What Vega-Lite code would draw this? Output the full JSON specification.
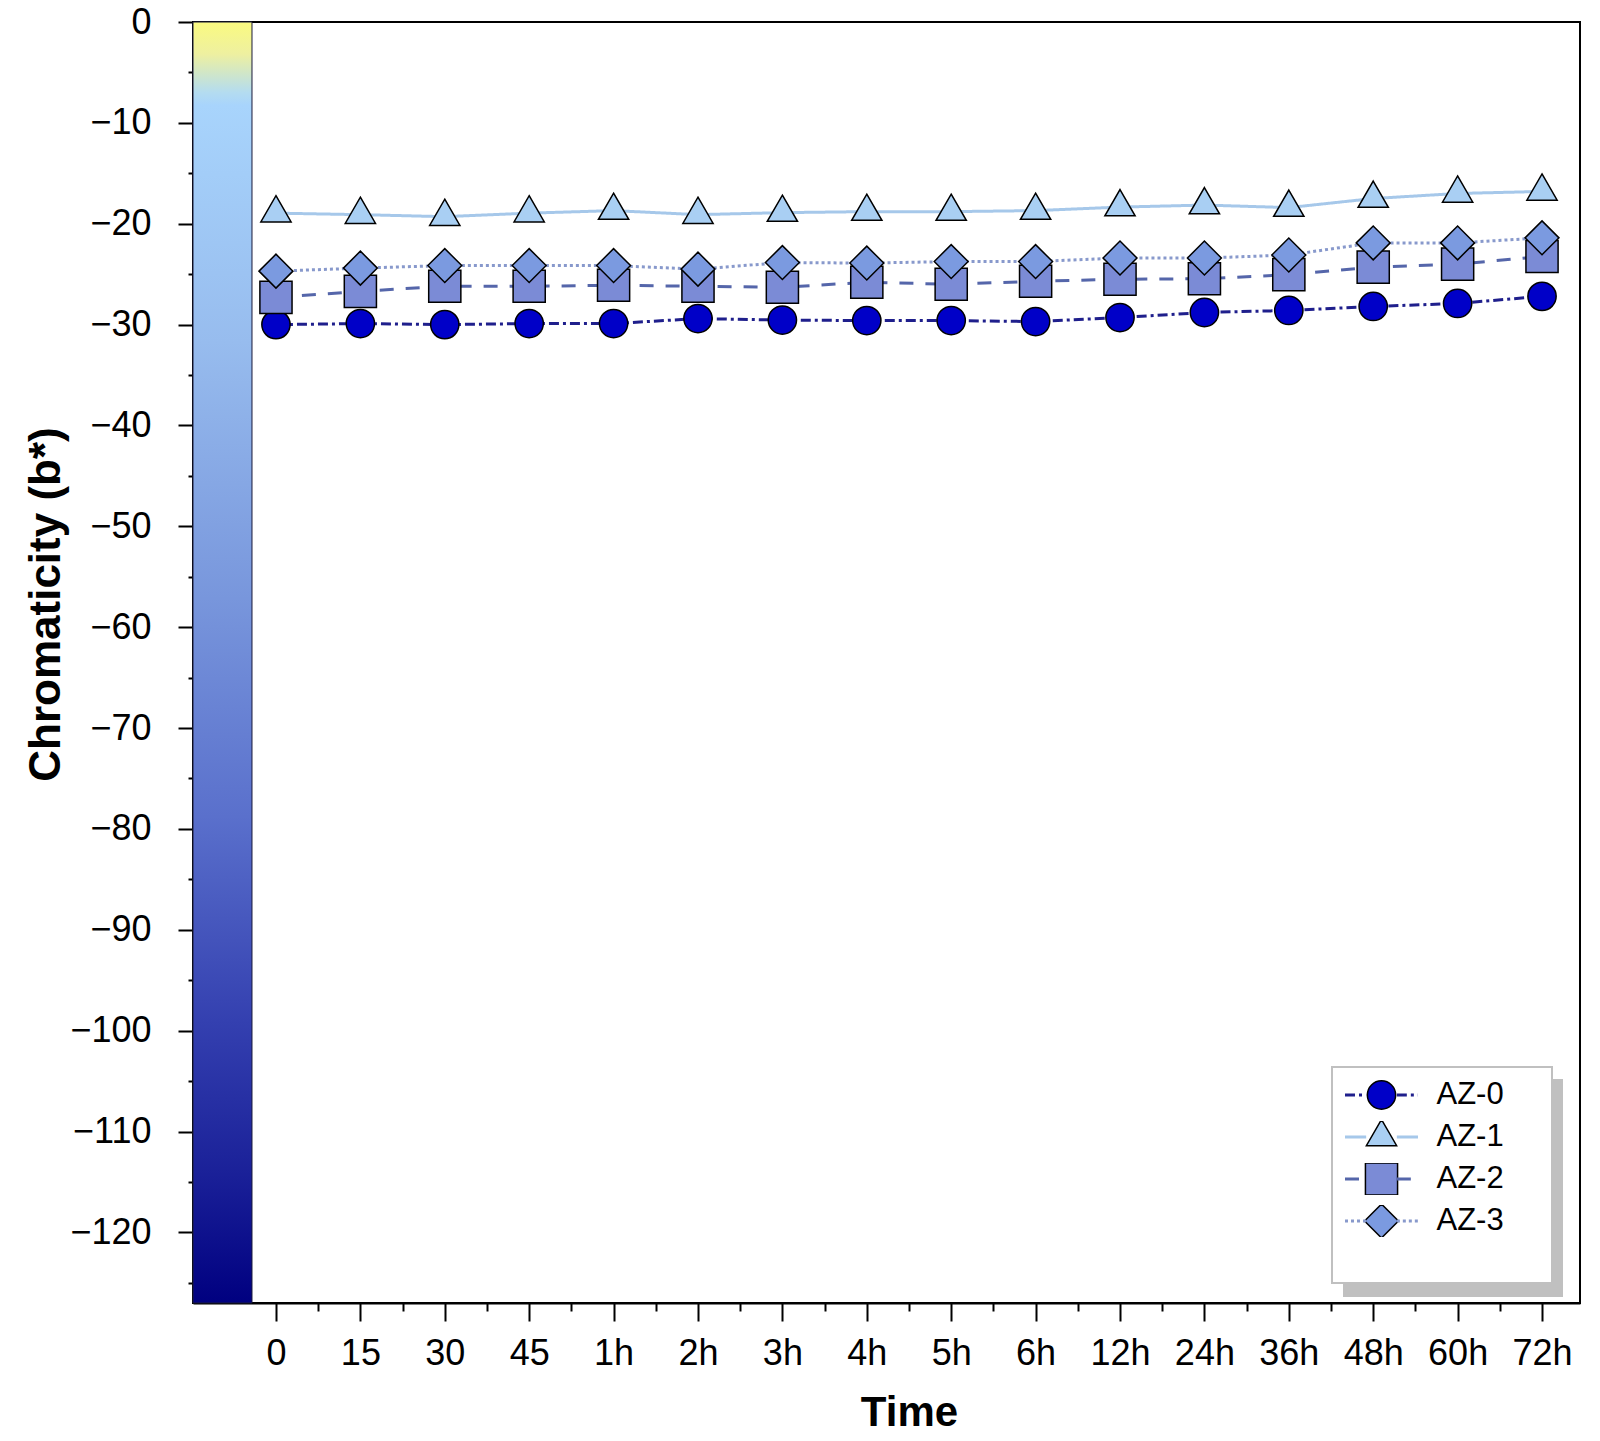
{
  "$schema": "https://vega.github.io/schema/vega-lite/v6.json",
  "width": 1387,
  "height": 1281,
  "autosize": {"type": "none"},
  "padding": {"left": 193, "top": 22, "right": 20, "bottom": 138},
  "background": "white",
  "config": {
    "view": {"stroke": "black", "strokeWidth": 2},
    "font": "Liberation Sans",
    "legend": {"strokeWidth": 2}
  },
  "data": {
    "values": [
      {"i": 0, "time": "0", "series": "AZ-0", "b": -30.0},
      {"i": 1, "time": "15", "series": "AZ-0", "b": -29.9},
      {"i": 2, "time": "30", "series": "AZ-0", "b": -30.0},
      {"i": 3, "time": "45", "series": "AZ-0", "b": -29.9},
      {"i": 4, "time": "1h", "series": "AZ-0", "b": -29.9},
      {"i": 5, "time": "2h", "series": "AZ-0", "b": -29.4},
      {"i": 6, "time": "3h", "series": "AZ-0", "b": -29.55},
      {"i": 7, "time": "4h", "series": "AZ-0", "b": -29.6},
      {"i": 8, "time": "5h", "series": "AZ-0", "b": -29.6},
      {"i": 9, "time": "6h", "series": "AZ-0", "b": -29.7},
      {"i": 10, "time": "12h", "series": "AZ-0", "b": -29.3},
      {"i": 11, "time": "24h", "series": "AZ-0", "b": -28.8},
      {"i": 12, "time": "36h", "series": "AZ-0", "b": -28.6},
      {"i": 13, "time": "48h", "series": "AZ-0", "b": -28.2},
      {"i": 14, "time": "60h", "series": "AZ-0", "b": -27.9},
      {"i": 15, "time": "72h", "series": "AZ-0", "b": -27.2},
      {"i": 0, "time": "0", "series": "AZ-1", "b": -18.95},
      {"i": 1, "time": "15", "series": "AZ-1", "b": -19.1},
      {"i": 2, "time": "30", "series": "AZ-1", "b": -19.3},
      {"i": 3, "time": "45", "series": "AZ-1", "b": -18.95},
      {"i": 4, "time": "1h", "series": "AZ-1", "b": -18.7},
      {"i": 5, "time": "2h", "series": "AZ-1", "b": -19.1},
      {"i": 6, "time": "3h", "series": "AZ-1", "b": -18.9},
      {"i": 7, "time": "4h", "series": "AZ-1", "b": -18.8},
      {"i": 8, "time": "5h", "series": "AZ-1", "b": -18.8},
      {"i": 9, "time": "6h", "series": "AZ-1", "b": -18.7},
      {"i": 10, "time": "12h", "series": "AZ-1", "b": -18.35},
      {"i": 11, "time": "24h", "series": "AZ-1", "b": -18.15},
      {"i": 12, "time": "36h", "series": "AZ-1", "b": -18.4},
      {"i": 13, "time": "48h", "series": "AZ-1", "b": -17.5},
      {"i": 14, "time": "60h", "series": "AZ-1", "b": -17.0},
      {"i": 15, "time": "72h", "series": "AZ-1", "b": -16.8},
      {"i": 0, "time": "0", "series": "AZ-2", "b": -27.3},
      {"i": 1, "time": "15", "series": "AZ-2", "b": -26.7},
      {"i": 2, "time": "30", "series": "AZ-2", "b": -26.2},
      {"i": 3, "time": "45", "series": "AZ-2", "b": -26.2},
      {"i": 4, "time": "1h", "series": "AZ-2", "b": -26.1},
      {"i": 5, "time": "2h", "series": "AZ-2", "b": -26.2},
      {"i": 6, "time": "3h", "series": "AZ-2", "b": -26.3},
      {"i": 7, "time": "4h", "series": "AZ-2", "b": -25.8},
      {"i": 8, "time": "5h", "series": "AZ-2", "b": -26.0},
      {"i": 9, "time": "6h", "series": "AZ-2", "b": -25.7},
      {"i": 10, "time": "12h", "series": "AZ-2", "b": -25.5},
      {"i": 11, "time": "24h", "series": "AZ-2", "b": -25.45},
      {"i": 12, "time": "36h", "series": "AZ-2", "b": -25.05},
      {"i": 13, "time": "48h", "series": "AZ-2", "b": -24.3},
      {"i": 14, "time": "60h", "series": "AZ-2", "b": -24.0},
      {"i": 15, "time": "72h", "series": "AZ-2", "b": -23.25},
      {"i": 0, "time": "0", "series": "AZ-3", "b": -24.7},
      {"i": 1, "time": "15", "series": "AZ-3", "b": -24.4},
      {"i": 2, "time": "30", "series": "AZ-3", "b": -24.15},
      {"i": 3, "time": "45", "series": "AZ-3", "b": -24.15},
      {"i": 4, "time": "1h", "series": "AZ-3", "b": -24.15},
      {"i": 5, "time": "2h", "series": "AZ-3", "b": -24.5},
      {"i": 6, "time": "3h", "series": "AZ-3", "b": -23.85},
      {"i": 7, "time": "4h", "series": "AZ-3", "b": -23.9},
      {"i": 8, "time": "5h", "series": "AZ-3", "b": -23.75},
      {"i": 9, "time": "6h", "series": "AZ-3", "b": -23.75},
      {"i": 10, "time": "12h", "series": "AZ-3", "b": -23.4},
      {"i": 11, "time": "24h", "series": "AZ-3", "b": -23.4},
      {"i": 12, "time": "36h", "series": "AZ-3", "b": -23.1},
      {"i": 13, "time": "48h", "series": "AZ-3", "b": -21.9},
      {"i": 14, "time": "60h", "series": "AZ-3", "b": -21.9},
      {"i": 15, "time": "72h", "series": "AZ-3", "b": -21.4}
    ]
  },
  "layer": [
    {
      "data": {"values": [{"b_top": 0, "b_bottom": -127}]},
      "mark": {
        "type": "rect",
        "stroke": "#1a1a3a",
        "strokeWidth": 1,
        "fill": {
          "gradient": "linear",
          "x1": 0, "y1": 0, "x2": 0, "y2": 1,
          "stops": [
            {"offset": 0, "color": "#fafa80"},
            {"offset": 0.025, "color": "#eef0a0"},
            {"offset": 0.04, "color": "#d0e6c8"},
            {"offset": 0.055, "color": "#b4dcf0"},
            {"offset": 0.065, "color": "#a8d4fc"},
            {"offset": 0.25, "color": "#97bcee"},
            {"offset": 0.45, "color": "#7896dc"},
            {"offset": 0.62, "color": "#5a70cc"},
            {"offset": 0.78, "color": "#3440b0"},
            {"offset": 0.9, "color": "#1a2098"},
            {"offset": 1, "color": "#000080"}
          ]
        }
      },
      "encoding": {
        "x": {"datum": -0.983, "type": "quantitative"},
        "x2": {"datum": -0.284},
        "y": {"field": "b_top", "type": "quantitative"},
        "y2": {"field": "b_bottom"}
      }
    },
    {
      "mark": {"type": "line"},
      "encoding": {
        "x": {
          "field": "i",
          "type": "quantitative",
          "scale": {"domain": [-0.983, 15.45], "nice": false, "zero": false},
          "axis": {
            "title": "Time",
            "values": [0, 0.5, 1, 1.5, 2, 2.5, 3, 3.5, 4, 4.5, 5, 5.5, 6, 6.5, 7, 7.5, 8, 8.5, 9, 9.5, 10, 10.5, 11, 11.5, 12, 12.5, 13, 13.5, 14, 14.5, 15],
            "labelExpr": "datum.value % 1 === 0 ? ['0','15','30','45','1h','2h','3h','4h','5h','6h','12h','24h','36h','48h','60h','72h'][datum.value] : ''",
            "labelFontSize": 36,
            "labelColor": "black",
            "labelPadding": 15,
            "labelOverlap": false,
            "labelFlush": false,
            "tickSize": 18,
            "tickWidth": 2,
            "tickColor": "black",
            "tickDash": {"condition": {"test": "datum.value % 1 !== 0", "value": [8, 40]}, "value": [1, 0]},
            "domainColor": "black",
            "domainWidth": 2,
            "grid": false,
            "titleFontSize": 42,
            "titleFontWeight": "bold",
            "titleColor": "black",
            "titleX": 716,
            "titleY": 122,
            "titleBaseline": "alphabetic",
            "titleAlign": "center"
          }
        },
        "y": {
          "field": "b",
          "type": "quantitative",
          "scale": {"domain": [-127, 0], "nice": false, "zero": false},
          "axis": {
            "title": "Chromaticity (b*)",
            "values": [-125, -120, -115, -110, -105, -100, -95, -90, -85, -80, -75, -70, -65, -60, -55, -50, -45, -40, -35, -30, -25, -20, -15, -10, -5, 0],
            "labelExpr": "datum.value % 10 === 0 ? datum.label : ''",
            "labelFontSize": 36,
            "labelColor": "black",
            "labelPadding": 27,
            "labelOverlap": false,
            "labelFlush": false,
            "tickSize": 15,
            "tickWidth": 2,
            "tickColor": "black",
            "tickDash": {"condition": {"test": "datum.value % 10 !== 0", "value": [5, 40]}, "value": [1, 0]},
            "domainColor": "black",
            "domainWidth": 2,
            "grid": false,
            "titleFontSize": 44,
            "titleFontWeight": "bold",
            "titleColor": "black",
            "titleAngle": 270,
            "titleX": -147,
            "titleY": 582,
            "titleBaseline": "middle",
            "titleAlign": "center"
          }
        },
        "stroke": {
          "field": "series",
          "type": "nominal",
          "scale": {"domain": ["AZ-0", "AZ-1", "AZ-2", "AZ-3"], "range": ["#1f1f8c", "#a6c8ea", "#5566aa", "#8899cc"]},
          "legend": {
            "orient": "none",
            "direction": "vertical",
            "legendX": 1138.5,
            "legendY": 1045,
            "title": null,
            "symbolType": "M-1,0L-0.42,0M0.42,0L1,0",
            "symbolSize": 5329,
            "symbolStrokeWidth": 3,
            "labelFontSize": 31,
            "labelColor": "black",
            "labelOffset": 17,
            "padding": 12,
            "clipHeight": 32,
            "rowPadding": 10,
            "zindex": 2
          }
        },
        "strokeDash": {
          "field": "series",
          "type": "nominal",
          "scale": {"domain": ["AZ-0", "AZ-1", "AZ-2", "AZ-3"], "range": [[10, 4, 3, 4], [1, 0], [14, 12], [3, 3]]}
        },
        "strokeWidth": {
          "field": "series",
          "type": "ordinal",
          "scale": {"domain": ["AZ-3", "AZ-2", "AZ-1", "AZ-0"], "range": [3, 3, 3, 3]},
          "legend": {
            "orient": "none",
            "direction": "vertical",
            "legendX": 1151,
            "legendY": 1058,
            "title": "\u00a0\u00a0\u00a0\u00a0",
            "titleOrient": "bottom",
            "titleFontSize": 29,
            "labelExpr": "''",
            "labelFontSize": 31,
            "labelOffset": 163,
            "symbolSize": 0,
            "symbolOpacity": 0,
            "padding": 12,
            "clipHeight": 32,
            "rowPadding": 10,
            "fillColor": "#c0c0c0",
            "strokeColor": "#c0c0c0",
            "zindex": 0
          }
        }
      }
    },
    {
      "mark": {"type": "point", "filled": true, "stroke": "black", "strokeWidth": 1.5, "opacity": 1},
      "encoding": {
        "x": {"field": "i", "type": "quantitative"},
        "y": {"field": "b", "type": "quantitative"},
        "fill": {
          "field": "series",
          "type": "nominal",
          "scale": {"range": ["#0000c8", "#a9cff3", "#7b8bd6", "#7b9ae0"]},
          "legend": {
            "orient": "none",
            "direction": "vertical",
            "legendX": 1139,
            "legendY": 1045,
            "title": "\u00a0\u00a0\u00a0\u00a0",
            "titleOrient": "bottom",
            "titleFontSize": 29,
            "labelExpr": "''",
            "labelFontSize": 31,
            "labelOffset": 140,
            "symbolOffset": 19.5,
            "symbolStrokeColor": "black",
            "symbolStrokeWidth": 1.5,
            "symbolOpacity": 1,
            "padding": 12,
            "clipHeight": 32,
            "rowPadding": 10,
            "fillColor": "white",
            "strokeColor": "#c0c0c0",
            "zindex": 1
          }
        },
        "shape": {
          "field": "series",
          "type": "nominal",
          "scale": {"range": ["circle", "M0,-1.155L1,0.577L-1,0.577Z", "square", "diamond"]}
        },
        "size": {
          "field": "series",
          "type": "nominal",
          "scale": {"range": [800, 1150, 570, 700]}
        }
      }
    }
  ]
}
